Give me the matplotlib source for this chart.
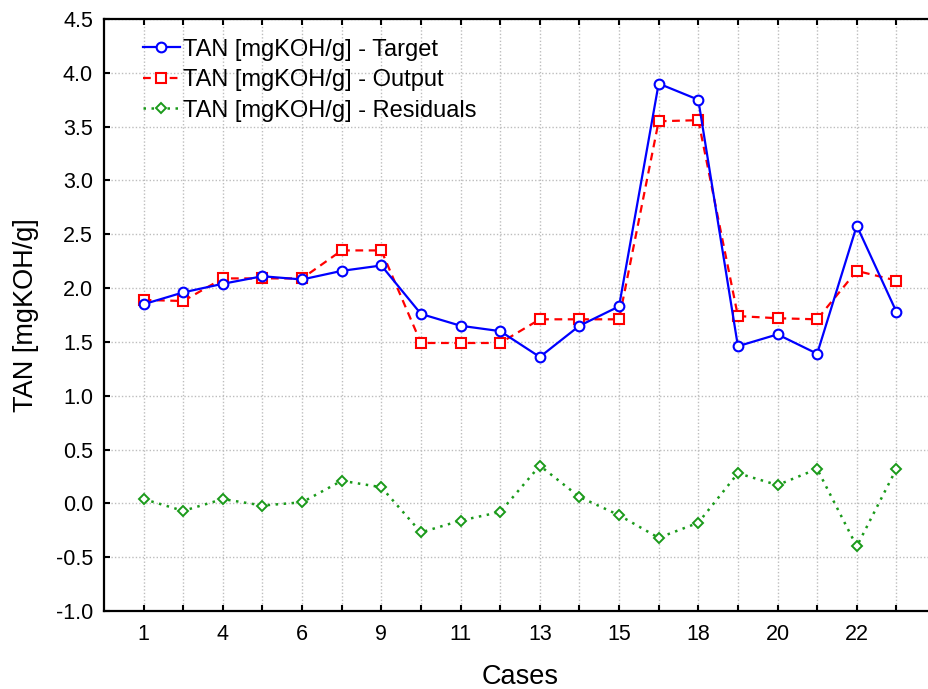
import matplotlib
matplotlib.use("Agg")
import matplotlib.pyplot as plt
import numpy as np

plt.rcParams['font.family'] = ['Liberation Sans', 'DejaVu Sans']

# Case positions (20 cases), labels shown on every other tick
case_tick_labels = ['1', '', '4', '', '6', '', '9', '', '11', '', '13', '', '15', '', '18', '', '20', '', '22', '']

target = [1.85, 1.96, 2.04, 2.11, 2.08, 2.16, 2.21, 1.76, 1.65, 1.60,
          1.36, 1.65, 1.83, 3.90, 3.75, 1.46, 1.57, 1.39, 2.58, 1.78]
output = [1.89, 1.88, 2.09, 2.09, 2.09, 2.35, 2.35, 1.49, 1.49, 1.49,
          1.71, 1.71, 1.71, 3.55, 3.56, 1.74, 1.72, 1.71, 2.16, 2.07]
residuals = [0.04, -0.07, 0.04, -0.02, 0.01, 0.21, 0.15, -0.27, -0.16, -0.08,
             0.35, 0.06, -0.11, -0.32, -0.18, 0.28, 0.17, 0.32, -0.40, 0.32]

series_names = ['TAN [mgKOH/g] - Target', 'TAN [mgKOH/g] - Output', 'TAN [mgKOH/g] - Residuals']
y_label = 'TAN [mgKOH/g]'
x_label = 'Cases'

x = np.arange(1, len(target) + 1)

fig = plt.figure(figsize=(9.29, 6.89), dpi=100)
ax = fig.add_axes([104/929, 78/689, 832/929, 592/689])

ax.plot(x, target, color='#0000ff', lw=1.6, ls='-', marker='o', ms=7,
        mfc='white', mec='#0000ff', mew=1.5, label=series_names[0], zorder=4)
ax.plot(x, output, color='#ff0000', lw=1.6, ls=(0, (3.5, 2.5)), marker='s', ms=7,
        mfc='white', mec='#ff0000', mew=1.5, label=series_names[1], zorder=3)
ax.plot(x, residuals, color='#1a9a1a', lw=1.8, ls=(0, (1, 2.2)), marker='D', ms=5.5,
        mfc='white', mec='#1a9a1a', mew=1.4, label=series_names[2], zorder=3)

ax.set_xlim(0, 21)
ax.set_ylim(-1.0, 4.5)
ax.set_xticks(x)
ax.set_xticklabels(case_tick_labels)
ax.set_yticks(np.arange(-1.0, 4.51, 0.5))
ax.set_yticklabels([f'{v:.1f}' for v in np.arange(-1.0, 4.51, 0.5)])

ax.grid(True, color='#bdbdbd', ls=(0, (1, 1.5)), lw=1.0)
ax.set_axisbelow(True)

for s in ['left', 'bottom', 'top']:
    ax.spines[s].set_linewidth(1.6)
    ax.spines[s].set_color('black')
ax.spines['right'].set_visible(False)

ax.tick_params(axis='both', direction='in', length=4.5, width=1.5, labelsize=15.5,
               top=True, right=False)
ax.tick_params(axis='x', pad=9)
ax.tick_params(axis='y', pad=8)

ax.set_xlabel(x_label, fontsize=19.5, labelpad=14)
ax.set_ylabel(y_label, fontsize=19.5, labelpad=12)

ax.legend(loc='upper left', bbox_to_anchor=(0.047, 0.967), frameon=False,
          fontsize=17, handlelength=1.55, handletextpad=0.15, labelspacing=0.36,
          borderpad=0, borderaxespad=0)

fig.savefig('out.png', dpi=100)
